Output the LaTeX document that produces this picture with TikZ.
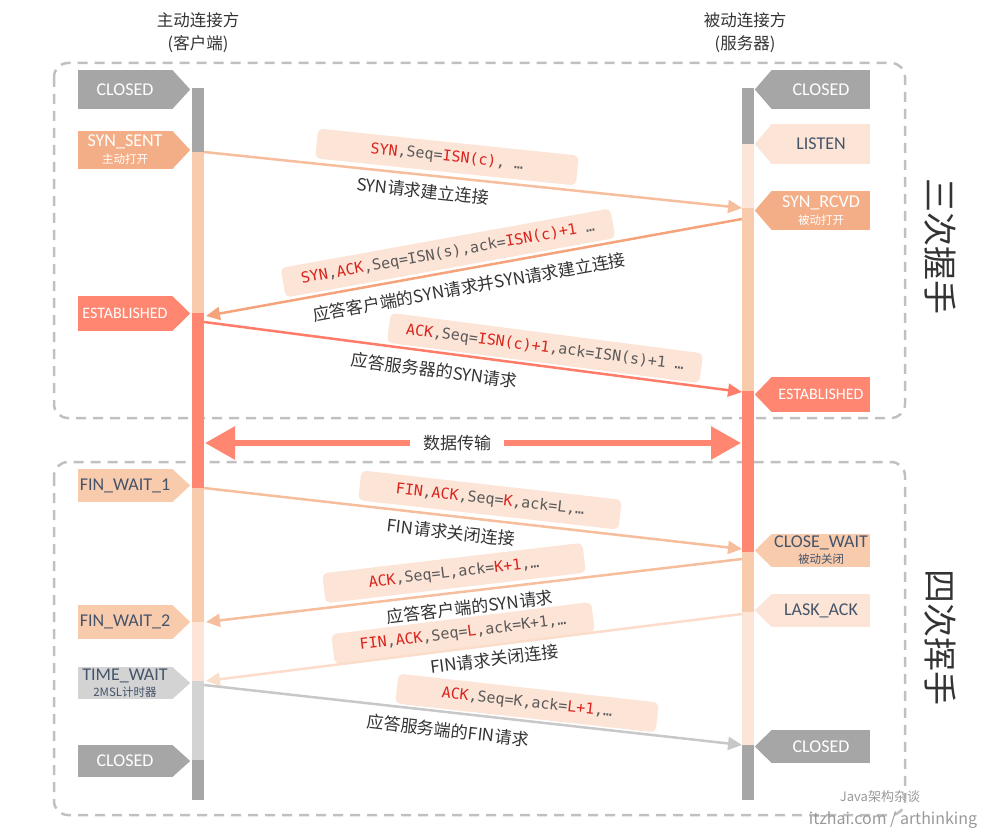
\documentclass[tikz,border=0pt]{standalone}
\usepackage{fontspec}
\setmainfont{Carlito}
\setmonofont{DejaVu Sans Mono}
\newfontfamily\cjk{Noto Sans CJK SC}
\usetikzlibrary{arrows.meta}
\definecolor{cgray}{HTML}{A6A6A6}
\definecolor{clight}{HTML}{FCE4D6}
\definecolor{cpeach}{HTML}{F8CBAD}
\definecolor{corange}{HTML}{F4AE87}
\definecolor{csalmon}{HTML}{FF8670}
\definecolor{csilver}{HTML}{D3D3D3}
\definecolor{cdark}{HTML}{44546A}
\definecolor{zonegray}{HTML}{C0C0C0}
\definecolor{ctext}{HTML}{333333}
\definecolor{kred}{HTML}{D9231D}
\definecolor{kgray}{HTML}{5A5A5A}
\definecolor{lpeach}{HTML}{F6BE9C}
\definecolor{lorange}{HTML}{F4A37B}
\definecolor{lsalmon}{HTML}{FF7C68}
\definecolor{llight}{HTML}{FBDDCB}
\definecolor{lgray}{HTML}{C8C8C8}
\newcommand{\kw}[1]{\textcolor{kred}{#1}}
\newcommand{\subl}[1]{{\cjk\fontsize{11.5}{12}\selectfont #1}}

\tikzset{
  lstate/.style={fill=#1, minimum width=94, minimum height=36, inner sep=0pt, align=center,
    font=\fontsize{18}{17}\selectfont,
    append after command={\pgfextra{\fill[#1] (\tikzlastnode.north east) -- ([xshift=18]\tikzlastnode.east) -- (\tikzlastnode.south east) -- cycle;}}},
  rstate/.style={fill=#1, minimum width=98, minimum height=36, inner sep=0pt, align=center,
    font=\fontsize{18}{17}\selectfont,
    append after command={\pgfextra{\fill[#1] (\tikzlastnode.north west) -- ([xshift=-17]\tikzlastnode.west) -- (\tikzlastnode.south west) -- cycle;}}},
  zone/.style={draw=zonegray, line width=2.5, dash pattern=on 10pt off 7pt, rounded corners=14},
  msg/.style={line width=2.5},
  codebox/.style={fill=clight, rounded corners=5, minimum width=262, minimum height=30, inner sep=0pt,
    sloped, text=kgray, font=\ttfamily\fontsize{15}{17}\selectfont},
  capt/.style={sloped, inner sep=1pt, text=ctext, font=\cjk\fontsize{17}{19}\selectfont},
  head/.style={align=center, text=ctext, font=\cjk\fontsize{16.5}{23}\selectfont},
}

\begin{document}
\begin{tikzpicture}[x=1pt, y=-1pt, >={Triangle[length=14,width=13]}]
    \useasboundingbox (0,0) rectangle (1000,834);
    % headers
    \node[head] (lhead) at (198,33) {主动连接方\\(客户端)};
    \node[head] (rhead) at (745,33) {被动连接方\\(服务器)};
    % zones
    \draw[zone] (54,63) rectangle (905,418);
    \draw[zone] (54,462) rectangle (905,815);
    \node[rotate=-90, text=ctext, font=\cjk\fontsize{34}{34}\selectfont] (shake3) at (940,247) {三次握手};
    \node[rotate=-90, text=ctext, font=\cjk\fontsize{34}{34}\selectfont] (wave4) at (940,637) {四次挥手};
    % life lines
    \foreach \ya/\yb/\c in {88/152/cgray, 152/313/cpeach, 313/488/csalmon, 488/622/cpeach,
        622/681/clight, 681/760/csilver, 760/800/cgray}
        \fill[\c] (192,\ya) rectangle (204,\yb);
    \foreach \ya/\yb/\c in {88/144/cgray, 144/208/clight, 208/391/cpeach, 391/552/csalmon,
        552/612/cpeach, 612/745/clight, 745/800/cgray}
        \fill[\c] (742,\ya) rectangle (754,\yb);
    % client states
    \node[lstate=cgray, minimum height=39, text=white] (lclosed) at (125,89.5) {CLOSED};
    \node[lstate=corange, minimum height=38, text=white] (lsynsent) at (125,150) {SYN\_SENT\\[0pt]\subl{主动打开}};
    \node[lstate=csalmon, minimum height=35, text=white, font=\fontsize{16}{15}\selectfont] (lestab) at (125,313.5) {ESTABLISHED};
    \node[lstate=cpeach, minimum height=33, text=cdark] (lfinwa) at (125,485.5) {FIN\_WAIT\_1};
    \node[lstate=cpeach, minimum height=34, text=cdark] (lfinwb) at (125,622) {FIN\_WAIT\_2};
    \node[lstate=csilver, minimum height=32, text=cdark] (ltimew) at (125,683) {TIME\_WAIT\\[-1pt]\subl{2MSL计时器}};
    \node[lstate=cgray, minimum height=32, text=white] (lend) at (125,761) {CLOSED};
    % server states
    \node[rstate=cgray, minimum height=39, text=white] (rclosed) at (821,89.5) {CLOSED};
    \node[rstate=clight, minimum height=40, text=cdark] (rlisten) at (821,144) {LISTEN};
    \node[rstate=corange, minimum height=39, text=white] (rsynrcvd) at (821,210.5) {SYN\_RCVD\\[0pt]\subl{被动打开}};
    \node[rstate=csalmon, minimum height=35, text=white, font=\fontsize{16}{15}\selectfont] (restab) at (821,394.5) {ESTABLISHED};
    \node[rstate=cpeach, minimum height=33, text=cdark] (rclosew) at (821,550.5) {CLOSE\_WAIT\\[-1pt]\subl{被动关闭}};
    \node[rstate=clight, minimum height=33, text=cdark] (rlastack) at (821,610.5) {LASK\_ACK};
    \node[rstate=cgray, minimum height=33, text=white] (rend) at (821,746.5) {CLOSED};
    % message ends
    \coordinate (L1) at (204,152);  \coordinate (R1) at (742,208);
    \coordinate (L2) at (206,316);  \coordinate (R2) at (742,219);
    \coordinate (L3) at (204,322);  \coordinate (R3) at (742,392);
    \coordinate (L4) at (204,488);  \coordinate (R4) at (742,549);
    \coordinate (L5) at (206,622);  \coordinate (R5) at (742,559);
    \coordinate (L6) at (206,681);  \coordinate (R6) at (742,614);
    \coordinate (L7) at (204,685);  \coordinate (R7) at (742,745);
    % three way handshake
    \node[codebox, rotate=-5.95] (box1) at (447,157) {\kw{SYN},Seq=\kw{ISN(c)}, …};
    \draw[msg, draw=lpeach, ->] (L1) -- node[capt, pos=0.41, below=6] (cap1) {SYN请求建立连接} (R1);
    \node[codebox, rotate=10.25, minimum width=335] (box2) at (448,253) {\kw{SYN},\kw{ACK},Seq=ISN(s),ack=\kw{ISN(c)+1} …};
    \draw[msg, draw=lorange, <-] (L2) -- node[capt, pos=0.485, below=8] (cap2) {应答客户端的SYN请求并SYN请求建立连接} (R2);
    \node[codebox, rotate=-7.4, minimum width=315] (box3) at (545,348) {\kw{ACK},Seq=\kw{ISN(c)+1},ack=ISN(s)+1 …};
    \draw[msg, draw=lsalmon, ->] (L3) -- node[capt, pos=0.433, below=8] (cap3) {应答服务器的SYN请求} (R3);
    % data transfer
    \node[inner xsep=13, text=ctext, font=\cjk\fontsize{17}{19}\selectfont] (data) at (457,443) {数据传输};
    \coordinate (DL) at (205,443); \coordinate (DR) at (741,443);
    \draw[line width=6, draw=csalmon, -{Triangle[length=30,width=32]}] (data.west) -- (DL);
    \draw[line width=6, draw=csalmon, -{Triangle[length=30,width=32]}] (data.east) -- (DR);
    % four way wave
    \node[codebox, rotate=-6.45] (box4) at (490,500) {\kw{FIN},\kw{ACK},Seq=\kw{K},ack=L,…};
    \draw[msg, draw=lpeach, ->] (L4) -- node[capt, pos=0.463, below=6] (cap4) {FIN请求关闭连接} (R4);
    \node[codebox, rotate=6.7] (box5) at (454,573) {\kw{ACK},Seq=L,ack=\kw{K+1},…};
    \draw[msg, draw=lpeach, <-] (L5) -- node[capt, pos=0.489, below=6] (cap5) {应答客户端的SYN请求} (R5);
    \node[codebox, rotate=7.1] (box6) at (463,633) {\kw{FIN},\kw{ACK},Seq=\kw{L},ack=K+1,…};
    \draw[msg, draw=llight, <-] (L6) -- node[capt, pos=0.535, below=4] (cap6) {FIN请求关闭连接} (R6);
    \node[codebox, rotate=-6.35] (box7) at (527,703) {\kw{ACK},Seq=K,ack=\kw{L+1},…};
    \draw[msg, draw=lgray, ->] (L7) -- node[capt, pos=0.457, below=8] (cap7) {应答服务端的FIN请求} (R7);
    % mark
    \node[text=gray!80, font=\cjk\fontsize{13}{14}\selectfont] (mark1) at (880,797) {Java架构杂谈};
    \node[text=gray!80, font=\cjk\fontsize{16}{17}\selectfont] (mark2) at (893,820) {itzhai.com / arthinking};
\end{tikzpicture}
\end{document}
